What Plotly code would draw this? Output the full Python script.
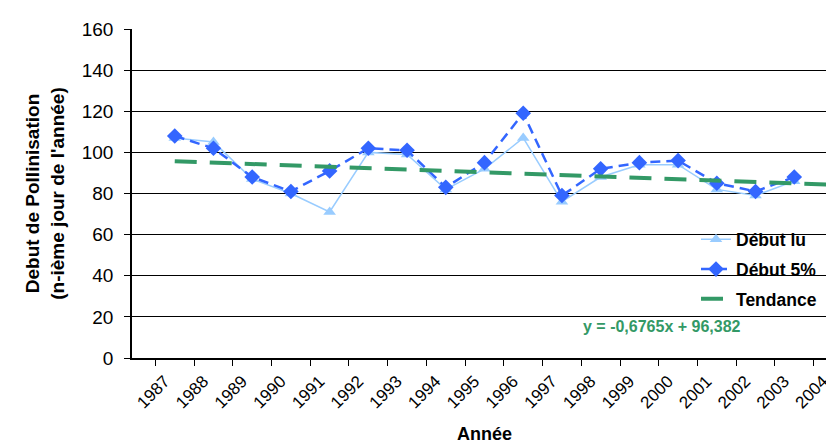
import plotly.graph_objects as go

years = [str(y) for y in range(1987, 2005)]
years_data = [str(y) for y in range(1987, 2004)]
debut_lu = [107, 105, 87, 80, 71, 100, 99, 82, 92, 107, 76, 88, 94, 94, 82, 79, 86]
debut_5 = [108, 102, 88, 81, 91, 102, 101, 83, 95, 119, 79, 92, 95, 96, 85, 81, 88]
trend_years = ["1987", "2004"]
trend_vals = [95.7, 84.2]
y_ticks = [0, 20, 40, 60, 80, 100, 120, 140, 160]
equation = "y = -0,6765x + 96,382"

FONT = "Liberation Sans, Arial, sans-serif"

fig = go.Figure()
fig.add_trace(go.Scatter(
    x=years_data, y=debut_lu, name="Début lu", mode="lines+markers",
    line=dict(color="#99CCFF", width=1.5),
    marker=dict(symbol="triangle-up", size=11, color="#99CCFF"),
    legendgroup="a"))
fig.add_trace(go.Scatter(
    x=years_data, y=debut_5, name="Début 5%", mode="lines+markers",
    line=dict(color="#3366FF", width=2.5, dash="10px,6px"),
    marker=dict(symbol="diamond", size=12, color="#3366FF"),
    legendgroup="b"))
fig.add_trace(go.Scatter(
    x=trend_years, y=trend_vals, name="Tendance", mode="lines",
    line=dict(color="#339966", width=4, dash="22px,13px"),
    legendgroup="c"))

fig.add_shape(type="rect", xref="paper", yref="paper",
              x0=0.7546, x1=0.9915, y0=0.006, y1=0.40,
              fillcolor="white", line=dict(width=0), layer="between")

fig.add_annotation(xref="paper", yref="paper", x=0.8667, y=0.065,
                   text="<b>" + equation + "</b>", showarrow=False,
                   font=dict(family=FONT, size=16, color="#339966"))

fig.update_layout(
    width=834, height=447,
    margin=dict(l=124, r=5, t=21, b=97),
    paper_bgcolor="white", plot_bgcolor="white",
    font=dict(family=FONT, size=17, color="black"),
    showlegend=True,
    legend=dict(x=0.80, y=0.415, xanchor="left", yanchor="top",
                bgcolor="rgba(0,0,0,0)", tracegroupgap=4,
                font=dict(family=FONT, size=17.5, color="black", weight="bold")),
    xaxis=dict(
        type="category", categoryorder="array", categoryarray=years,
        tickson="boundaries", ticks="outside", ticklen=6, tickcolor="black",
        showline=True, linecolor="black", linewidth=1.5, showgrid=False,
        tickangle=-45, tickfont=dict(size=17), ticklabelshift=-10,
        ticklabelstandoff=5,
        title=dict(text="<b>Année</b>", font=dict(size=18), standoff=16)),
    yaxis=dict(
        range=[0, 160], tickvals=y_ticks, ticks="outside", ticklen=6,
        tickcolor="black", showline=True, linecolor="black", linewidth=1.5,
        showgrid=True, gridcolor="black", gridwidth=1, zeroline=False,
        tickfont=dict(size=19), ticklabelstandoff=7,
        title=dict(text="<b>Debut de Pollinisation<br>(n-ième jour de l'année)</b>",
                   font=dict(size=19), standoff=12)),
)

fig.write_html("out.html")
